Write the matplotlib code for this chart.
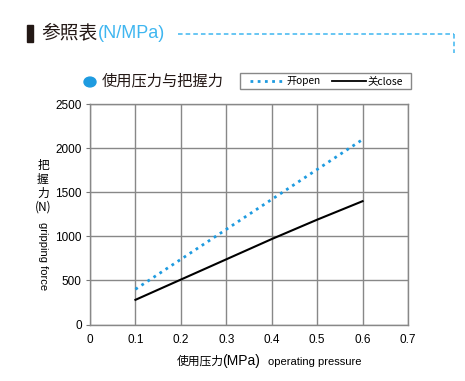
import matplotlib.pyplot as plt
from matplotlib.patches import Rectangle, Circle
from matplotlib.lines import Line2D

# data
pressure = [0.1, 0.2, 0.3, 0.4, 0.5, 0.6]          # MPa
force_open = [400, 740, 1080, 1420, 1760, 2100]     # N
force_close = [280, 510, 740, 970, 1190, 1400]      # N
x_ticks = [0, 0.1, 0.2, 0.3, 0.4, 0.5, 0.6, 0.7]
y_ticks = [0, 500, 1000, 1500, 2000, 2500]

W, H = 465, 381
blue = '#1e9be0'
light_blue = '#3fb6f0'
cjk = ['Noto Sans CJK SC', 'DejaVu Sans']
lat = 'Liberation Sans'


def fx(px):
    return px / W


def fy(py):
    return 1 - py / H


fig = plt.figure(figsize=(W / 100, H / 100), dpi=100)
ax = fig.add_axes([fx(90), fy(324.5), fx(408) - fx(90), fy(104.3) - fy(324.5)])

ax.plot(pressure, force_open, color=blue, linestyle=(0, (1, 1.6)), linewidth=2.0)
ax.plot(pressure, force_close, color='black', linewidth=1.5)

ax.set_xlim(0, 0.7)
ax.set_ylim(0, 2500)
ax.set_xticks(x_ticks)
ax.set_yticks(y_ticks)
ax.set_xticklabels(['0' if v == 0 else '%g' % v for v in x_ticks], fontfamily=lat, fontsize=8.5)
ax.set_yticklabels([str(v) for v in y_ticks], fontfamily=lat, fontsize=8.5)
ax.tick_params(axis='x', length=0, pad=7)
ax.tick_params(axis='y', length=3, color='#777777', pad=3)
ax.grid(True, color='#888888', linewidth=1.0)
for s in ax.spines.values():
    s.set_color('#888888')
    s.set_linewidth(1.0)

# header
fig.patches.append(Rectangle((fx(27), fy(42)), fx(6), fy(25) - fy(42), color='#231815',
                             transform=fig.transFigure, figure=fig))
fig.text(fx(41), fy(33), '参照表', fontfamily=cjk, fontsize=13.5, va='center', color='#231815')
fig.text(fx(98), fy(33), '(N/MPa)', fontfamily=lat, fontsize=13, va='center', color=light_blue)
fig.lines.append(Line2D([fx(178), fx(454)], [fy(34), fy(34)], transform=fig.transFigure,
                        color=light_blue, linestyle=(0, (3, 2)), linewidth=1.1))
fig.lines.append(Line2D([fx(454), fx(454)], [fy(34), fy(53)], transform=fig.transFigure,
                        color=light_blue, linestyle=(0, (3, 2)), linewidth=1.1))

# legend title
fig.patches.append(Circle((fx(90), fy(82)), fx(6), color=blue, transform=fig.transFigure, figure=fig))
fig.text(fx(102), fy(81), '使用压力与把握力', fontfamily=cjk, fontsize=11, va='center', color='#231815')

# legend box
fig.patches.append(Rectangle((fx(240), fy(89)), fx(411) - fx(240), fy(73) - fy(89), fill=False,
                             edgecolor='#888888', linewidth=1.0, transform=fig.transFigure, figure=fig))
fig.lines.append(Line2D([fx(250), fx(282)], [fy(81), fy(81)], transform=fig.transFigure,
                        color=blue, linestyle=(0, (1, 1.6)), linewidth=2.0))
fig.text(fx(286), fy(81), '开open', fontfamily=cjk, fontsize=7.3, va='center')
fig.lines.append(Line2D([fx(332), fx(366)], [fy(81), fy(81)], transform=fig.transFigure,
                        color='black', linewidth=1.3))
fig.text(fx(367), fy(81), '关close', fontfamily=cjk, fontsize=7.5, va='center')

# y label
fig.text(fx(43), fy(186), '把\n握\n力\n(N)', fontfamily=cjk, fontsize=8.5, ha='center', va='center',
         linespacing=1.1)
fig.text(fx(43), fy(256), 'gripping force', fontfamily=lat, fontsize=8, ha='center', va='center',
         rotation=-90)

# x label
fig.text(fx(177), fy(361), '使用压力', fontfamily=cjk, fontsize=8.5, va='center')
fig.text(fx(222), fy(361), '(MPa)', fontfamily=lat, fontsize=10, va='center')
fig.text(fx(268), fy(362), 'operating pressure', fontfamily=lat, fontsize=8, va='center')

fig.savefig('out.png', dpi=100, facecolor='white')
